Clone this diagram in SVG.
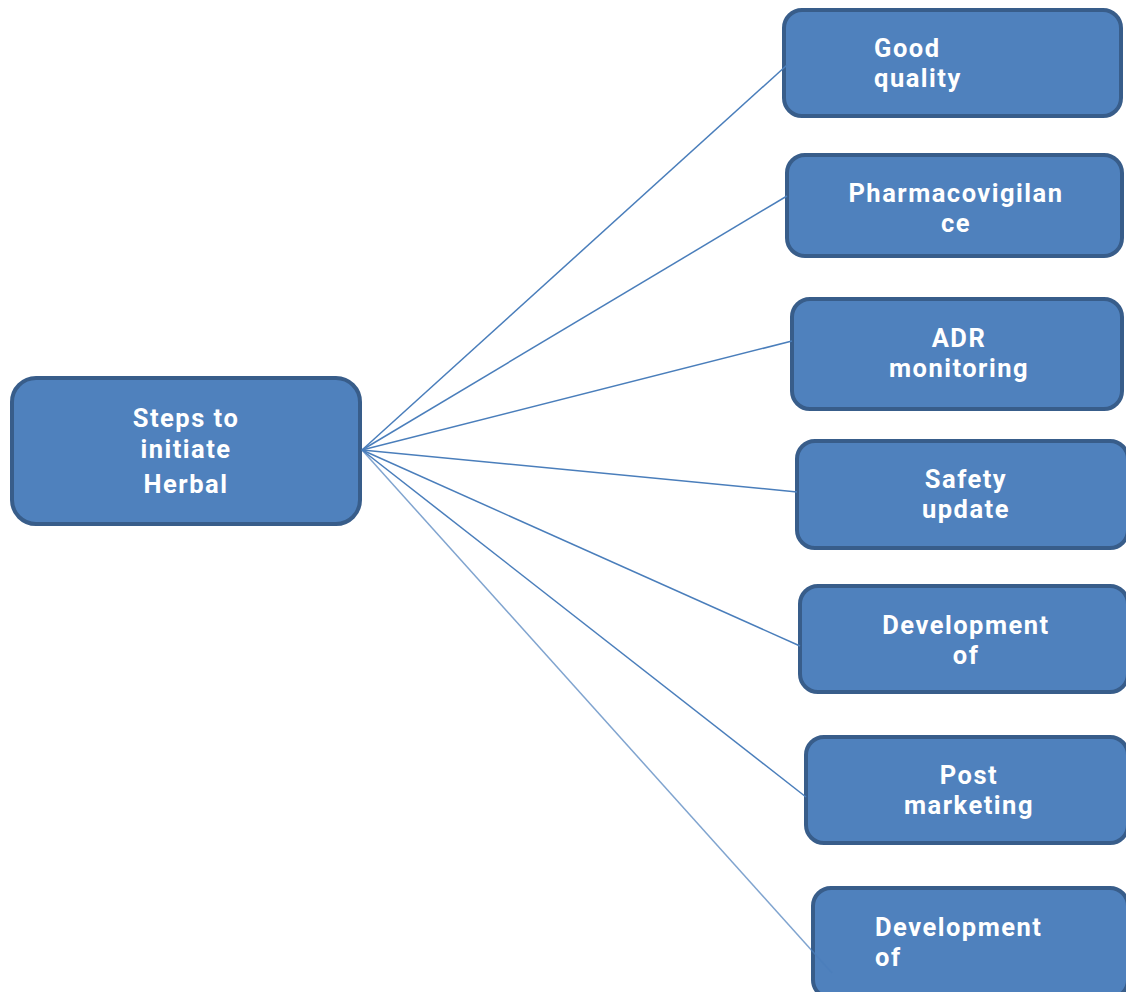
<svg xmlns="http://www.w3.org/2000/svg" width="1126" height="992" viewBox="0 0 1126 992">
<style>
.box{fill:#4f81bd;stroke:#385d8a;stroke-width:4}
.t{font-family:Roboto,"Liberation Sans",sans-serif;font-weight:bold;font-size:25.5px;letter-spacing:1.5px;fill:#fff}
.c{text-anchor:middle}
.ln{stroke:#4a7ebb;stroke-width:1.5;fill:none}
</style>
<rect width="1126" height="992" fill="#fff"/>
<g id="n0"><rect class="box" x="12" y="378" width="348" height="146" rx="24"/>
<text class="t c" x="186" y="427">Steps to</text><text class="t c" x="186" y="458">initiate</text><text class="t c" x="186" y="493">Herbal</text></g>
<g id="n1"><rect class="box" x="784" y="10" width="337" height="106" rx="18"/>
<text class="t" x="874" y="57">Good</text><text class="t" x="874" y="87">quality</text></g>
<g id="n2"><rect class="box" x="787" y="155" width="335" height="101" rx="18"/>
<text class="t c" x="956" y="202">Pharmacovigilan</text><text class="t c" x="956" y="232">ce</text></g>
<g id="n3"><rect class="box" x="792" y="299" width="330" height="110" rx="18"/>
<text class="t c" x="959" y="347">ADR</text><text class="t c" x="959" y="377">monitoring</text></g>
<g id="n4"><rect class="box" x="797" y="441" width="331" height="107" rx="18"/>
<text class="t c" x="966" y="488">Safety</text><text class="t c" x="966" y="518">update</text></g>
<g id="n5"><rect class="box" x="800" y="586" width="328" height="106" rx="18"/>
<text class="t c" x="966" y="634">Development</text><text class="t c" x="966" y="664">of</text></g>
<g id="n6"><rect class="box" x="806" y="737" width="322" height="106" rx="18"/>
<text class="t c" x="969" y="784">Post</text><text class="t c" x="969" y="814">marketing</text></g>
<g id="n7"><rect class="box" x="813" y="888" width="315" height="110" rx="18"/>
<text class="t" x="875" y="936">Development</text><text class="t" x="875" y="966">of</text></g>
<g id="connectors">
<line class="ln" x1="362" y1="450" x2="787" y2="65"/>
<line class="ln" x1="362" y1="450" x2="787" y2="196"/>
<line class="ln" x1="362" y1="450" x2="792" y2="341"/>
<line class="ln" x1="362" y1="450" x2="797" y2="492"/>
<line class="ln" x1="362" y1="450" x2="800" y2="646"/>
<line class="ln" x1="362" y1="450" x2="806" y2="797"/>
<line class="ln" x1="362" y1="450" x2="832" y2="973" stroke-opacity="0.7"/>
</g>
</svg>
